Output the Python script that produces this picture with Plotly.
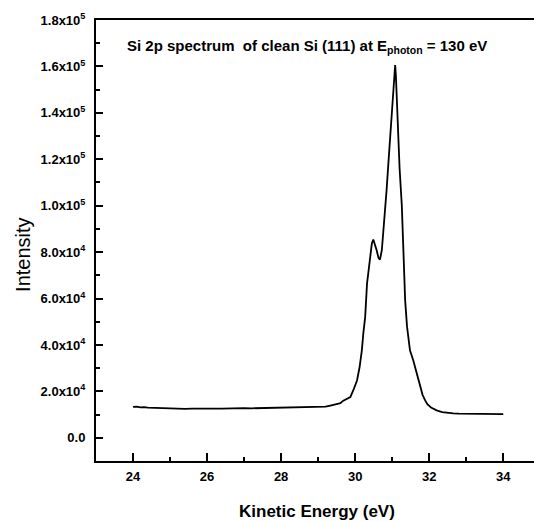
import plotly.graph_objects as go

# Kinetic energy (eV)
energy = [24.0, 24.1, 24.2, 24.3, 24.4, 24.5, 24.6, 24.7, 24.8, 24.9,
          25.0, 25.2, 25.4, 25.6, 25.8, 26.0, 26.2, 26.4, 26.6, 26.8,
          27.0, 27.2, 27.4, 27.6, 27.8, 28.0, 28.2, 28.4, 28.6, 28.8,
          29.0, 29.2, 29.33, 29.5, 29.6, 29.68, 29.78, 29.87, 29.95, 30.05,
          30.12, 30.18, 30.22, 30.27, 30.32, 30.36, 30.4, 30.45, 30.49, 30.53,
          30.58, 30.63, 30.67, 30.72, 30.76, 30.8, 30.85, 30.9, 30.95, 31.0,
          31.05, 31.08, 31.1, 31.15, 31.2, 31.26, 31.3, 31.35, 31.4, 31.48,
          31.57, 31.66, 31.75, 31.82, 31.89, 31.95, 32.05, 32.2, 32.35, 32.5,
          32.65, 32.8, 33.0, 33.2, 33.4, 33.6, 33.8, 34.0]

# Intensity (counts)
intensity = [13300, 13450, 13100, 13250, 13000, 12950, 12900, 12750, 12650, 12700,
             12400, 12500, 12450, 12600, 12500, 12500, 12600, 12550, 12700, 12650,
             12800, 12700, 12750, 12700, 12800, 12800, 12900, 12900, 13000, 13100,
             13200, 13400, 13900, 14500, 14900, 16000, 16800, 17500, 20500, 24700,
             30500, 37700, 45000, 52000, 66400, 72000, 77200, 83700, 85400, 83500,
             80800, 77500, 76800, 80800, 88000, 95000, 107000, 119000, 131000, 143000,
             155000, 160600, 156000, 135000, 116000, 100000, 80000, 59200, 48000, 37700,
             33300, 27600, 22000, 18500, 16100, 14500, 13000, 11800, 11100, 10700,
             10500, 10400, 10350, 10300, 10250, 10250, 10200, 10200]

y_tick_vals = [0, 20000, 40000, 60000, 80000, 100000, 120000, 140000, 160000, 180000]
y_tick_text = ["<b>0.0</b>", "<b>2.0x10<sup>4</sup></b>", "<b>4.0x10<sup>4</sup></b>",
               "<b>6.0x10<sup>4</sup></b>", "<b>8.0x10<sup>4</sup></b>",
               "<b>1.0x10<sup>5</sup></b>", "<b>1.2x10<sup>5</sup></b>",
               "<b>1.4x10<sup>5</sup></b>", "<b>1.6x10<sup>5</sup></b>",
               "<b>1.8x10<sup>5</sup></b>"]
y_minor_vals = [10000, 30000, 50000, 70000, 90000, 110000, 130000, 150000, 170000]
x_tick_vals = [24, 26, 28, 30, 32, 34]
x_tick_text = ["<b>24</b>", "<b>26</b>", "<b>28</b>", "<b>30</b>", "<b>32</b>", "<b>34</b>"]
x_minor_vals = [25, 27, 29, 31, 33]

FONT = "Liberation Sans, Arial, sans-serif"

fig = go.Figure()
fig.add_trace(go.Scatter(x=energy, y=intensity, mode="lines", hoverinfo="skip",
                         line=dict(color="black", width=1.8), showlegend=False))

fig.update_layout(
    width=534, height=522,
    margin=dict(l=96, r=0, t=20, b=61),
    paper_bgcolor="white", plot_bgcolor="white",
    hovermode=False, dragmode=False,
    font=dict(family=FONT, color="black"),
    xaxis=dict(range=[23, 34.83], showgrid=False, zeroline=False, fixedrange=True,
               showline=True, linecolor="black", linewidth=2, mirror=True,
               ticks="inside", ticklen=8, tickwidth=2, tickcolor="black",
               tickmode="array", tickvals=x_tick_vals, ticktext=x_tick_text,
               tickfont=dict(size=13, family=FONT, color="black"),
               ticklabelstandoff=2,
               minor=dict(tickmode="array", tickvals=x_minor_vals, ticks="inside",
                          ticklen=4, tickwidth=2, tickcolor="black", showgrid=False)),
    yaxis=dict(range=[-10000, 180000], showgrid=False, zeroline=False, fixedrange=True,
               showline=True, linecolor="black", linewidth=2, mirror=False,
               ticks="inside", ticklen=7, tickwidth=2, tickcolor="black",
               tickmode="array", tickvals=y_tick_vals, ticktext=y_tick_text,
               tickfont=dict(size=13, family=FONT, color="black"),
               ticklabelstandoff=6,
               minor=dict(tickmode="array", tickvals=y_minor_vals, ticks="inside",
                          ticklen=4, tickwidth=2, tickcolor="black", showgrid=False)),
    annotations=[
        dict(text="<b>Si 2p spectrum  of clean Si (111) at E<sub>photon</sub> = 130 eV</b>",
             xref="paper", yref="paper", x=0.066, y=0.941, xanchor="left", yanchor="middle",
             showarrow=False, font=dict(size=15, family=FONT, color="black")),
        dict(text="<b>Kinetic Energy (eV)</b>",
             xref="paper", yref="paper", x=0.505, y=-0.1156, xanchor="center", yanchor="middle",
             showarrow=False, font=dict(size=17, family=FONT, color="black")),
        dict(text="Intensity", textangle=-90,
             xref="paper", yref="paper", x=-0.167, y=0.467, xanchor="center", yanchor="middle",
             showarrow=False, font=dict(size=20, family=FONT, color="black")),
    ],
)

fig.write_html("out.html", config={"displayModeBar": False, "staticPlot": True},
               post_script="document.body.style.margin='0';document.body.style.overflow='hidden';")
